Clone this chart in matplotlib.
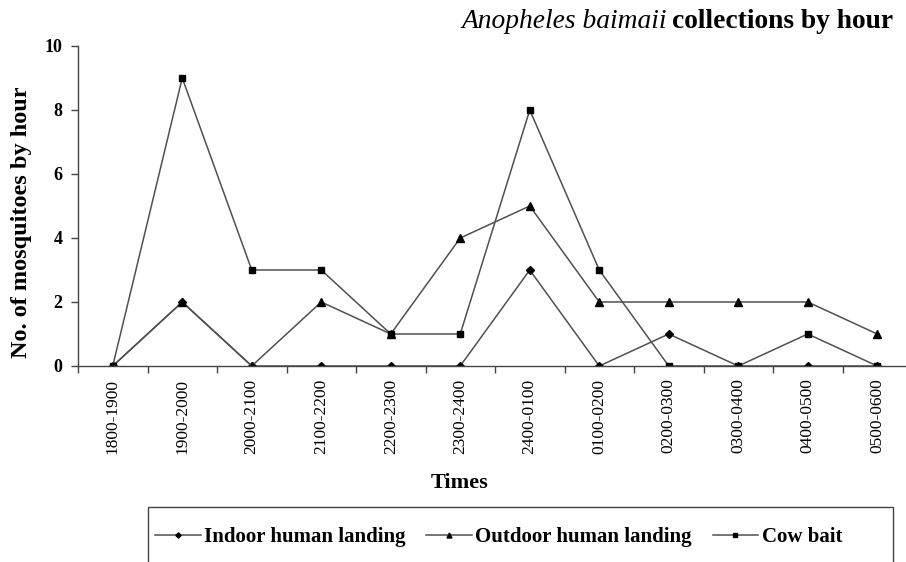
import matplotlib.pyplot as plt
import matplotlib.patches as patches
import numpy as np

plt.rcParams['font.family'] = ['Liberation Serif', 'DejaVu Serif']

times = [ '1800-1900', '1900-2000', '2000-2100', '2100-2200', '2200-2300', '2300-2400',
          '2400-0100', '0100-0200', '0200-0300', '0300-0400', '0400-0500', '0500-0600' ]
indoor = [ 0, 2, 0, 0, 0, 0, 3, 0, 1, 0, 0, 0 ]
outdoor = [ 0, 2, 0, 2, 1, 4, 5, 2, 2, 2, 2, 1 ]
cow = [ 0, 9, 3, 3, 1, 1, 8, 3, 0, 0, 1, 0 ]

W, H = 906, 562
fig = plt.figure( figsize = ( W / 100, H / 100 ), dpi = 100 )
# axis runs past the right edge of the picture, as in the reference
ax = fig.add_axes( [ 78 / W, 1 - 366 / H, ( 912 - 78 ) / W, ( 366 - 46 ) / H ] )

x = np.arange( len( times ) )
lc = '#505050'
lw = 1.1
ax.plot( x, indoor, color = lc, linewidth = lw, marker = 'D', markersize = 4.5,
         markerfacecolor = 'k', markeredgecolor = 'k', label = 'Indoor human landing' )
ax.plot( x, outdoor, color = lc, linewidth = lw, marker = '^', markersize = 6,
         markerfacecolor = 'k', markeredgecolor = 'k', label = 'Outdoor human landing' )
ax.plot( x, cow, color = lc, linewidth = lw, marker = 's', markersize = 4.5,
         markerfacecolor = 'k', markeredgecolor = 'k', label = 'Cow bait' )

ax.set_xlim( -0.5, len( times ) - 0.5 )
ax.set_ylim( 0, 10 )
ax.set_yticks( [ 0, 2, 4, 6, 8, 10 ] )
ax.set_yticklabels( [ '0', '2', '4', '6', '8', '10' ], fontsize = 13, fontweight = 'bold' )
ax.set_xticks( x )
ax.set_xticklabels( times, rotation = 90, fontsize = 12.5 )
ax.tick_params( axis = 'x', length = 0, pad = 9 )
ax.set_xticks( np.arange( -0.5, len( times ), 1.0 ), minor = True )
ax.tick_params( axis = 'x', which = 'minor', length = 5, direction = 'out', width = 1, color = '#444444' )
ax.tick_params( axis = 'y', length = 5, direction = 'out', width = 1, color = '#444444', pad = 6 )

for s in [ 'top', 'right' ]:
    ax.spines[ s ].set_visible( False )
for s in [ 'left', 'bottom' ]:
    ax.spines[ s ].set_color( '#444444' )
    ax.spines[ s ].set_linewidth( 1 )

ax.set_ylabel( 'No. of mosquitoes by hour', fontsize = 17.5, fontweight = 'bold' )
ax.yaxis.set_label_coords( ( 32 - 78 ) / ( 912 - 78 ), ( 366 - 222 ) / ( 366 - 46 ) )
fig.text( 460 / W, 1 - 483 / H, 'Times', ha = 'center', va = 'center', fontsize = 16, fontweight = 'bold' )

t1 = fig.text( 893 / W, 1 - 22 / H, 'collections by hour', ha = 'right', va = 'center',
               fontsize = 19.8, fontweight = 'bold' )
fig.canvas.draw()
bb = t1.get_window_extent()
fig.text( ( bb.x0 - 5 ) / W, 1 - 22 / H, 'Anopheles baimaii', ha = 'right', va = 'center',
          fontsize = 19.8, style = 'italic' )

rect = patches.Rectangle( ( 148 / W, -0.05 ), ( 893 - 148 ) / W, ( 562 - 507 ) / H + 0.05,
                          transform = fig.transFigure, fill = False, edgecolor = '#444444', linewidth = 1 )
fig.patches.append( rect )
fig.legend( loc = 'center left', bbox_to_anchor = ( 136 / W, 1 - 537 / H ), ncol = 3, frameon = False,
            prop = { 'size': 15, 'weight': 'bold' }, handlelength = 2.2, handletextpad = 0.15,
            columnspacing = 1.0, markerscale = 0.6 )

fig.savefig( 'out.png', dpi = 100 )
